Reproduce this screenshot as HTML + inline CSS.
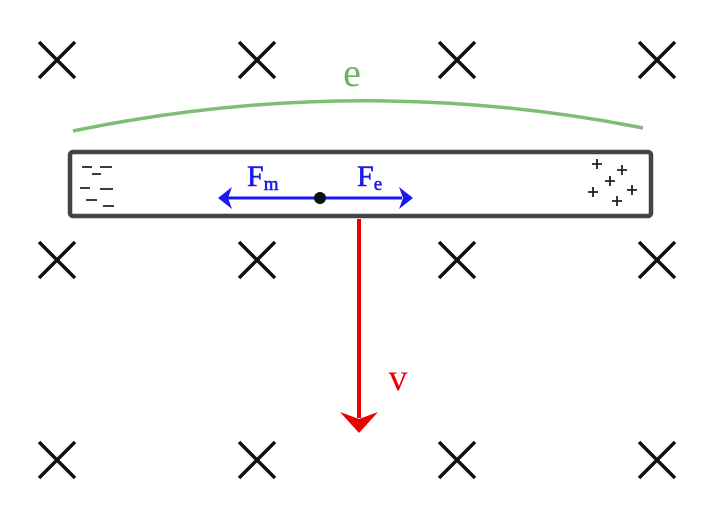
<!DOCTYPE html>
<html><head><meta charset="utf-8"><style>
html,body{margin:0;padding:0;background:#fff;}
svg{display:block;}
</style></head><body>
<svg width="722" height="526" viewBox="0 0 722 526" xmlns="http://www.w3.org/2000/svg">
<g stroke="#111" stroke-width="3.5" stroke-linecap="butt">
<path d="M39 42L75 78M75 42L39 78"/>
<path d="M239 42L275 78M275 42L239 78"/>
<path d="M439 42L475 78M475 42L439 78"/>
<path d="M639 42L675 78M675 42L639 78"/>
<path d="M39 242L75 278M75 242L39 278"/>
<path d="M239 242L275 278M275 242L239 278"/>
<path d="M439 242L475 278M475 242L439 278"/>
<path d="M639 242L675 278M675 242L639 278"/>
<path d="M39 442L75 478M75 442L39 478"/>
<path d="M239 442L275 478M275 442L239 478"/>
<path d="M439 442L475 478M475 442L439 478"/>
<path d="M639 442L675 478M675 442L639 478"/>
</g>
<path d="M73 131Q358 72 643 128" fill="none" stroke="#7cbf72" stroke-width="3.5"/>
<text x="352" y="86" font-family="Liberation Serif,serif" font-size="40" fill="#6cb063" text-anchor="middle">e</text>
<rect x="70" y="152" width="581" height="64" rx="3" fill="#fff" stroke="#444" stroke-width="4.5"/>
<g stroke="#222" stroke-width="1.8">
<path d="M82 167h10M100 167h12M92 174h9M80 188h10M100 189h13M86 200h11M103 206h11"/>
<path d="M597 159v10M592 164h10M622 165v10M617 170h10M610 176v10M605 181h10M588 192h10M593 187v10M632 185v10M627 190h10M617 196v10M612 201h10"/>
</g>
<line x1="228" y1="198" x2="402" y2="198" stroke="#1a1af0" stroke-width="3"/>
<path d="M218 198L232 187L228 198L232 209Z" fill="#1a1af0"/>
<path d="M413 198L399 187L403 198L399 209Z" fill="#1a1af0"/>
<circle cx="320" cy="198" r="6" fill="#111"/>
<text x="247" y="186" font-family="Liberation Serif,serif" font-size="30" fill="#1a1af0" stroke="#1a1af0" stroke-width="0.6">F<tspan font-size="19" dy="4">m</tspan></text>
<text x="357" y="186" font-family="Liberation Serif,serif" font-size="30" fill="#1a1af0" stroke="#1a1af0" stroke-width="0.6">F<tspan font-size="19" dy="4">e</tspan></text>
<line x1="359" y1="219" x2="359" y2="418" stroke="#e00" stroke-width="4"/>
<path d="M359 433L340 412L359 419L378 412Z" fill="#e00"/>
<text x="398" y="390" font-family="Liberation Serif,serif" font-size="38" fill="#e00" text-anchor="middle">v</text>
</svg>
</body></html>
